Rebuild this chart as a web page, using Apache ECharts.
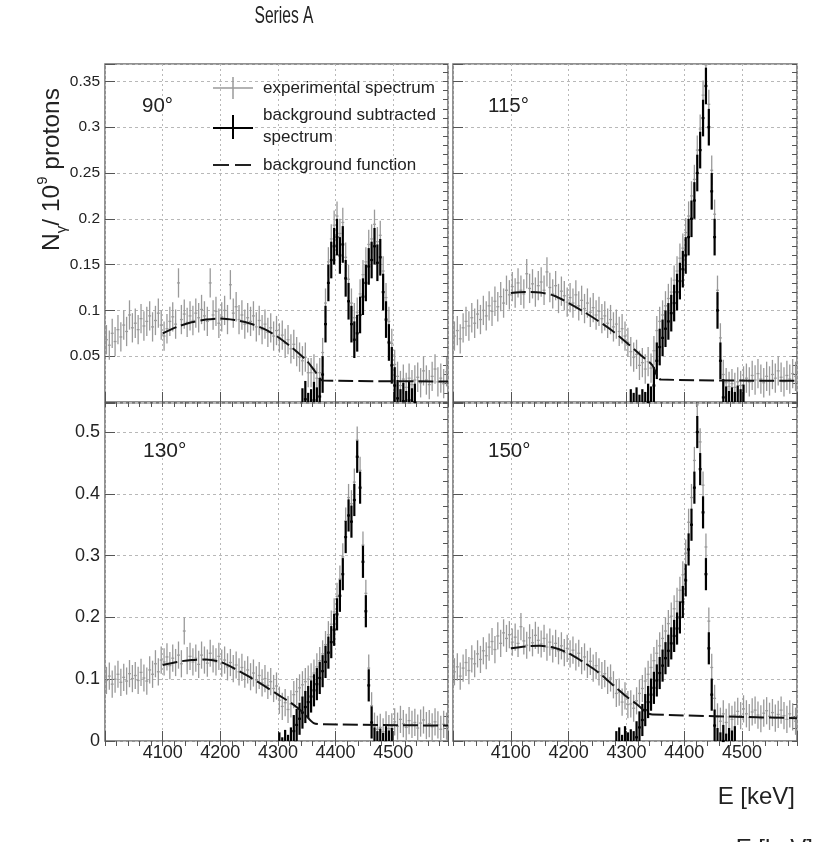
<!DOCTYPE html>
<html><head><meta charset="utf-8">
<script src="https://cdn.jsdelivr.net/npm/echarts@6/dist/echarts.min.js"></script>
<style>html,body{margin:0;padding:0;background:#fff}#c{width:823px;height:842px}</style>
</head><body><div id="c"></div><script>
// ---------- data ----------
const binFirstCenter = 4002.5;   // keV, centre of first 5 keV bin
const binWidth = 5;              // keV
const panelLabels = ['90°', '115°', '130°', '150°'];
const xTickLabels = ['4100', '4200', '4300', '4400', '4500'];
const yTopTickLabels = ['0.05', '0.1', '0.15', '0.2', '0.25', '0.3', '0.35'];
const yBottomTickLabels = ['0', '0.1', '0.2', '0.3', '0.4', '0.5'];
const legendLabels = ['experimental spectrum', 'background subtracted', 'spectrum', 'background function'];

// experimental spectrum (grey), 120 bins 4000-4600 keV
const exp90 = [0.068,0.062,0.075,0.066,0.079,0.071,0.084,0.077,0.095,0.081,
 0.086,0.079,0.091,0.083,0.088,0.094,0.082,0.089,0.097,0.084,
 0.072,0.08,0.088,0.093,0.085,0.13,0.09,0.096,0.087,0.094,
 0.089,0.097,0.092,0.101,0.094,0.088,0.13,0.095,0.099,0.086,
 0.093,0.1,0.09,0.128,0.097,0.104,0.09,0.095,0.085,0.092,
 0.088,0.094,0.082,0.089,0.079,0.085,0.076,0.081,0.072,0.078,
 0.07,0.073,0.064,0.068,0.058,0.063,0.055,0.049,
 0.045,0.049,0.032,0.032,0.036,0.026,0.032,0.054,0.108,0.153,0.178,0.193,0.203,0.184,0.196,0.158,0.134,0.108,0.092,0.098,
 0.118,0.139,0.153,0.172,0.178,0.194,0.175,0.182,0.143,0.114,0.088,0.064,0.041,0.028,0.018,0.025,0.016,0.026,0.019,0.024,
 0.027,0.021,0.034,0.024,0.019,0.028,0.036,0.022,0.026,0.02,0.033,0.025];
const exp115 = [0.072,0.078,0.069,0.081,0.088,0.083,0.092,0.086,0.096,0.09,
 0.1,0.094,0.105,0.099,0.11,0.104,0.115,0.108,0.122,0.117,
 0.126,0.119,0.13,0.122,0.118,0.14,0.124,0.129,0.12,0.127,
 0.131,0.122,0.142,0.125,0.118,0.127,0.113,0.121,0.116,0.109,
 0.114,0.108,0.117,0.105,0.111,0.102,0.108,0.098,0.103,0.095,
 0.099,0.091,0.094,0.086,0.09,0.082,0.085,0.077,0.08,0.072,
 0.065,
 0.055,0.049,0.052,0.04,0.043,0.036,0.044,0.037,0.056,0.078,0.088,0.095,0.105,0.113,0.12,0.133,0.143,0.157,0.168,0.185,
 0.203,0.225,0.243,0.275,0.298,0.335,0.368,0.325,0.253,0.205,0.122,0.07,0.03,0.021,0.017,0.02,0.016,0.022,0.018,0.023,
 0.026,0.022,0.029,0.024,0.031,0.025,0.021,0.028,0.023,0.03,0.026,0.034,0.027,0.022,0.029,0.025,0.031,0.028,0.024];
const exp130 = [0.098,0.105,0.092,0.1,0.108,0.095,0.103,0.097,0.109,0.101,
 0.106,0.098,0.111,0.102,0.097,0.115,0.108,0.125,0.112,0.131,
 0.128,0.136,0.122,0.134,0.127,0.139,0.125,0.178,0.13,0.137,
 0.128,0.134,0.124,0.139,0.131,0.126,0.142,0.133,0.128,0.137,
 0.126,0.131,0.12,0.127,0.117,0.123,0.112,0.119,0.108,0.115,
 0.104,0.11,0.099,0.106,0.094,0.101,0.09,0.096,0.085,0.089,
 0.066,0.056,0.062,0.051,0.06,0.075,0.08,0.086,0.091,0.096,0.1,0.104,0.11,0.12,0.13,0.141,0.156,0.172,0.189,0.209,
 0.234,0.262,0.298,0.356,0.394,0.384,0.419,0.487,0.438,0.317,0.239,0.118,0.057,0.024,0.019,0.022,0.015,0.026,0.02,0.023,
 0.031,0.024,0.035,0.028,0.022,0.033,0.027,0.03,0.021,0.029,0.034,0.025,0.028,0.023,0.031,0.026,0.019,0.027,0.024,0.021];
const exp150 = [0.112,0.12,0.105,0.118,0.127,0.114,0.133,0.125,0.141,0.132,
 0.146,0.138,0.152,0.161,0.148,0.17,0.158,0.175,0.166,0.172,
 0.16,0.168,0.158,0.185,0.162,0.155,0.167,0.159,0.171,0.163,
 0.157,0.166,0.152,0.16,0.149,0.158,0.146,0.154,0.143,0.15,
 0.141,0.147,0.136,0.142,0.13,0.136,0.124,0.129,0.118,0.122,
 0.112,0.106,0.109,0.098,0.102,0.091,
 0.077,0.079,0.063,0.073,0.059,0.06,0.053,0.065,0.077,0.085,0.097,0.108,0.119,0.13,0.142,0.154,0.166,0.178,0.19,0.202,0.214,
 0.226,0.244,0.269,0.304,0.354,0.394,0.454,0.544,0.484,0.414,0.314,0.194,0.119,0.069,0.039,0.032,0.044,0.03,0.039,0.035,0.042,
 0.048,0.041,0.052,0.044,0.038,0.047,0.05,0.042,0.036,0.045,0.049,0.04,0.046,0.037,0.043,0.05,0.041,0.035,0.044,0.039,0.032,0.04];

// background subtracted spectrum (black)
const sub90Start = 4342.5;
const sub90 = [-0.005,0.003,-0.01,-0.006,0.002,-0.004,0.006,0.03,0.085,0.13,0.155,0.17,0.18,0.16,0.172,0.135,0.11,0.085,0.068,0.075,
 0.095,0.115,0.13,0.148,0.155,0.17,0.152,0.158,0.12,0.09,0.065,0.04,0.018,0.004,-0.006,0.001,-0.008,0.002,-0.005,0.0];
const sub115Start = 4307.5;
const sub115 = [-0.006,-0.01,-0.004,-0.012,-0.006,-0.009,0.0,-0.003,0.018,0.045,0.06,0.07,0.08,0.088,0.097,0.108,0.12,0.132,0.145,0.16,
 0.18,0.2,0.22,0.25,0.275,0.31,0.345,0.3,0.23,0.18,0.1,0.045,0.005,-0.003,-0.008,-0.004,-0.009,-0.002,-0.006,-0.001];
const sub130Start = 4302.5;
const sub130 = [-0.012,-0.02,-0.008,-0.016,-0.004,0.016,0.026,0.036,0.046,0.055,0.063,0.072,0.082,0.092,0.102,0.113,0.128,0.143,0.16,0.18,
 0.205,0.235,0.27,0.33,0.365,0.355,0.39,0.46,0.41,0.29,0.21,0.09,0.03,-0.004,-0.01,-0.006,-0.013,-0.002,-0.009,-0.005];
const sub150Start = 4282.5;
const sub150 = [-0.01,-0.004,-0.016,-0.002,-0.012,-0.007,-0.01,0.006,0.022,0.034,0.05,0.063,0.075,0.086,0.098,0.11,0.122,0.134,0.146,0.158,0.17,
 0.182,0.2,0.225,0.26,0.31,0.35,0.41,0.5,0.44,0.37,0.27,0.15,0.075,0.025,-0.005,-0.012,0.0,-0.014,-0.005,-0.009,-0.002];

// statistical error (half length of bars)
const expErr = [0.016, 0.016, 0.022, 0.022];
const subErr = [0.02, 0.02, 0.026, 0.026];

// background function [E, value]
const bg90 = [[4100,0.075],[4125,0.082],[4150,0.087],[4175,0.09],[4200,0.0912],[4225,0.0895],[4250,0.086],[4275,0.08],[4300,0.071],[4325,0.059],[4350,0.045],[4365,0.033],[4378,0.0235],[4595,0.0225]];
const bg115 = [[4100,0.119],[4125,0.12],[4150,0.1195],[4175,0.116],[4200,0.108],[4225,0.099],[4250,0.089],[4275,0.078],[4300,0.065],[4325,0.051],[4345,0.04],[4360,0.0245],[4595,0.0232]];
const bg130 = [[4100,0.123],[4125,0.128],[4150,0.131],[4175,0.132],[4200,0.128],[4225,0.117],[4250,0.104],[4275,0.09],[4300,0.075],[4325,0.06],[4345,0.045],[4362,0.029],[4380,0.027],[4595,0.025]];
const bg150 = [[4100,0.15],[4125,0.153],[4150,0.154],[4175,0.151],[4200,0.142],[4225,0.128],[4250,0.112],[4275,0.092],[4300,0.072],[4320,0.058],[4335,0.046],[4345,0.043],[4595,0.037]];

// ---------- chart ----------
const FONT = '"Liberation Sans", Arial, Helvetica, sans-serif';
const TXT = '#222';
const expAll = [exp90, exp115, exp130, exp150];
const subAll = [[sub90Start, sub90], [sub115Start, sub115], [sub130Start, sub130], [sub150Start, sub150]];
const bgAll = [bg90, bg115, bg130, bg150];

function toPairs(start, arr) { return arr.map((v, i) => [start + i * binWidth, v]); }
function fmt(v) { return String(parseFloat(Number(v).toFixed(4))); }

function errRender(err, color, lw) {
  return function (params, api) {
    const x = api.value(0), v = api.value(1);
    const cs = params.coordSys;
    const top = cs.y, bot = cs.y + cs.height, lft = cs.x, rgt = cs.x + cs.width;
    const pC = api.coord([x, v]);
    const pL = api.coord([x - binWidth / 2, v]);
    const pR = api.coord([x + binWidth / 2, v]);
    const pHi = api.coord([x, v + err]);
    const pLo = api.coord([x, v - err]);
    const ch = [];
    if (pC[0] >= lft && pC[0] <= rgt) {
      const y1 = Math.max(pHi[1], top), y2 = Math.min(pLo[1], bot);
      if (y2 > y1) ch.push({type: 'line', shape: {x1: pC[0], y1: y1, x2: pC[0], y2: y2}, style: {stroke: color, lineWidth: lw}});
    }
    if (pC[1] >= top && pC[1] <= bot) {
      const xa = Math.max(pL[0], lft), xb = Math.min(pR[0], rgt);
      if (xb > xa) ch.push({type: 'line', shape: {x1: xa, y1: pC[1], x2: xb, y2: pC[1]}, style: {stroke: color, lineWidth: lw}});
    }
    return {type: 'group', children: ch};
  };
}

const grids = [
  {left: 105, top: 64, width: 343, height: 338},
  {left: 453, top: 64, width: 344, height: 338},
  {left: 105, top: 403, width: 343, height: 338},
  {left: 453, top: 403, width: 344, height: 338}
].map(g => Object.assign(g, {show: true, borderColor: '#6e6e6e', borderWidth: 1.5, backgroundColor: 'transparent'}));

const xAxes = [], yAxes = [], series = [];
for (let g = 0; g < 4; g++) {
  const bottomRow = g >= 2, leftCol = g % 2 === 0;
  const yMax = bottomRow ? 0.547 : 0.369;
  const yInt = bottomRow ? 0.1 : 0.05;
  const yMinor = bottomRow ? 0.02 : 0.01;
  const yLabels = bottomRow ? yBottomTickLabels : yTopTickLabels;
  xAxes.push({
    gridIndex: g, type: 'value', min: 4000, max: 4595, interval: 100,
    axisLine: {show: false},
    axisTick: {show: true, inside: true, length: 10, lineStyle: {color: '#555', width: 1}},
    axisLabel: {show: bottomRow, margin: 3, fontSize: 18, fontFamily: FONT, color: TXT,
      formatter: v => xTickLabels.includes(fmt(v)) ? fmt(v) : ''},
    splitLine: {show: true, lineStyle: {color: '#b8b8b8', width: 1, type: [2, 3]}}
  });
  xAxes.push({
    gridIndex: g, type: 'value', min: 4000, max: 4595, interval: 20,
    axisLine: {show: false}, axisLabel: {show: false}, splitLine: {show: false},
    axisTick: {show: true, inside: true, length: 5, lineStyle: {color: '#555', width: 1}}
  });
  yAxes.push({
    gridIndex: g, type: 'value', min: 0, max: yMax, interval: yInt,
    axisLine: {show: false},
    axisTick: {show: true, inside: true, length: 10, lineStyle: {color: '#555', width: 1}},
    axisLabel: {show: leftCol, margin: 5, fontSize: bottomRow ? 18 : 15.5, fontFamily: FONT, color: TXT,
      formatter: v => yLabels.includes(fmt(v)) ? fmt(v) : ''},
    splitLine: {show: true, lineStyle: {color: '#b8b8b8', width: 1, type: [3, 3]}}
  });
  yAxes.push({
    gridIndex: g, type: 'value', min: 0, max: yMax, interval: yMinor,
    axisLine: {show: false}, axisLabel: {show: false}, splitLine: {show: false},
    axisTick: {show: true, inside: true, length: 5, lineStyle: {color: '#555', width: 1}}
  });
  series.push({
    type: 'custom', xAxisIndex: 2 * g, yAxisIndex: 2 * g,
    renderItem: errRender(expErr[g], '#9a9a9a', 1.3),
    encode: {x: 0, y: 1},
    data: toPairs(binFirstCenter, expAll[g]), z: 2
  });
  series.push({
    type: 'custom', xAxisIndex: 2 * g, yAxisIndex: 2 * g,
    renderItem: errRender(subErr[g], '#000', 2.2),
    encode: {x: 0, y: 1},
    data: toPairs(subAll[g][0], subAll[g][1]), z: 3
  });
  series.push({
    type: 'line', xAxisIndex: 2 * g, yAxisIndex: 2 * g,
    data: bgAll[g], showSymbol: false, smooth: 0.3, clip: true,
    lineStyle: {color: '#111', width: 2, type: [15, 5]}, z: 4
  });
}

const graphics = [];
function txt(x, y, text, size, align, extra) {
  return Object.assign({type: 'text', x: x, y: y, z: 10, style: {text: text, fontSize: size, fontFamily: FONT, fill: TXT,
    textAlign: align, align: align, textVerticalAlign: 'middle', verticalAlign: 'middle'}}, extra || {});
}
function ln(x1, y1, x2, y2, color, w, dash) {
  return {type: 'line', z: 10, shape: {x1, y1, x2, y2}, style: {stroke: color, lineWidth: w, lineDash: dash || null}};
}
// title
graphics.push(txt(284, 16, 'Series A', 24, 'center', {scaleX: 0.65}));
// panel angle labels
graphics.push(txt(142, 106, panelLabels[0], 20.5, 'left'));
graphics.push(txt(488, 106, panelLabels[1], 20.5, 'left'));
graphics.push(txt(143, 451, panelLabels[2], 21, 'left'));
graphics.push(txt(488, 451, panelLabels[3], 20.5, 'left'));
// legend
graphics.push(ln(213, 88, 253, 88, '#9a9a9a', 1.5));
graphics.push(ln(233, 77, 233, 99, '#9a9a9a', 1.5));
graphics.push(txt(263, 88, legendLabels[0], 17, 'left'));
graphics.push(ln(213, 128, 253, 128, '#000', 2));
graphics.push(ln(233, 115, 233, 139, '#000', 2));
graphics.push(txt(263, 115, legendLabels[1], 17, 'left'));
graphics.push(txt(263, 137, legendLabels[2], 17, 'left'));
graphics.push(ln(213, 165, 253, 165, '#222', 2, [16, 6]));
graphics.push(txt(263, 165, legendLabels[3], 17, 'left'));
// axis titles
graphics.push({type: 'text', x: 52, y: 88, rotation: Math.PI / 2, z: 10, style: {
  text: '{n|N}{s|γ}{n|/ 10}{p|9}{n| protons}', textAlign: 'right', align: 'right',
  textVerticalAlign: 'middle', verticalAlign: 'middle', fill: TXT,
  rich: {
    n: {fontSize: 24.5, fontFamily: FONT, fill: TXT, lineHeight: 34, verticalAlign: 'middle'},
    s: {fontSize: 15, fontFamily: FONT, fill: TXT, lineHeight: 34, verticalAlign: 'bottom'},
    p: {fontSize: 15, fontFamily: FONT, fill: TXT, lineHeight: 34, verticalAlign: 'top'}
  }}});
graphics.push(txt(795, 797, 'E [keV]', 24, 'right'));
graphics.push(txt(813, 849, 'E [keV]', 24, 'right'));

const chart = echarts.init(document.getElementById('c'), null, {renderer: 'canvas'});
chart.setOption({
  animation: false,
  backgroundColor: '#fff',
  grid: grids,
  xAxis: xAxes,
  yAxis: yAxes,
  series: series,
  graphic: graphics
});
</script></body></html>
